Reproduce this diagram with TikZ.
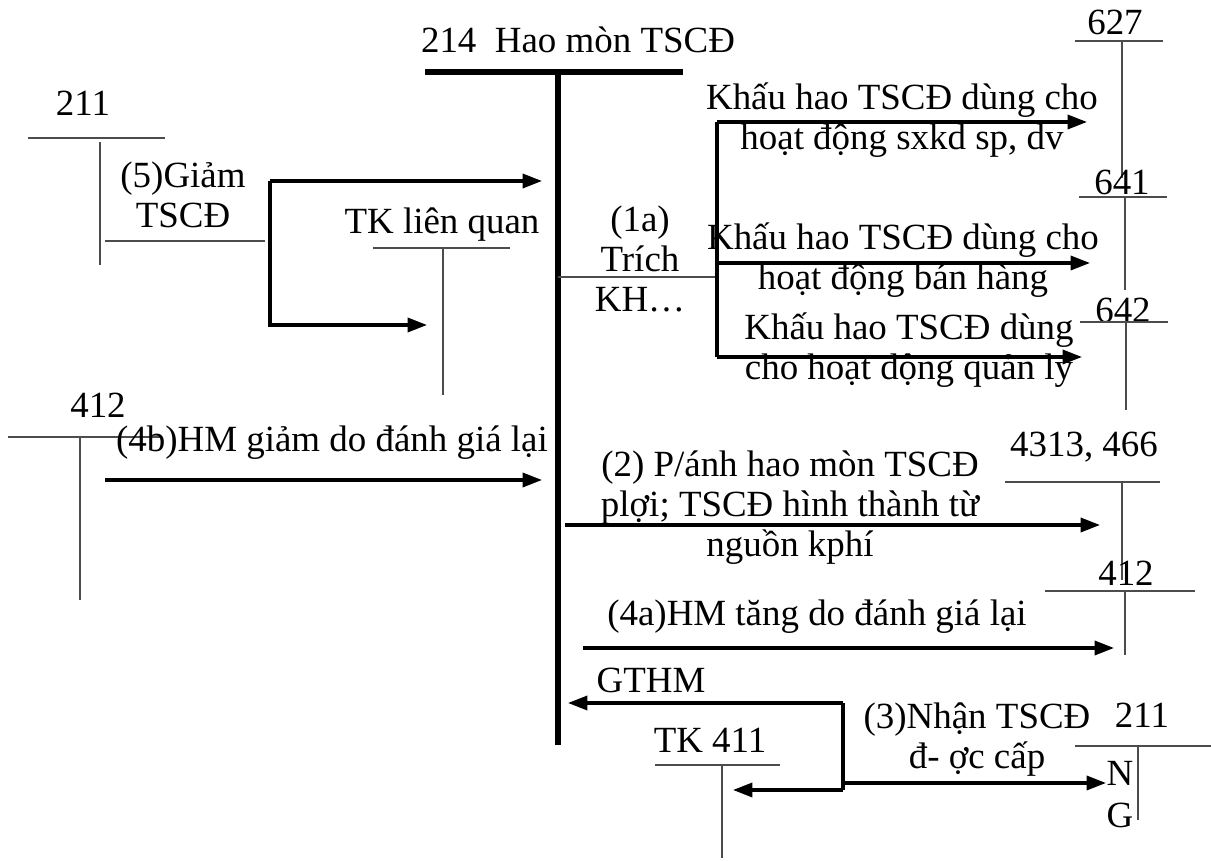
\documentclass[tikz,border=0pt]{standalone}
\usepackage{fontspec}
\setmainfont{Liberation Serif}
\usetikzlibrary{arrows.meta}

\begin{document}
\begin{tikzpicture}[x=0.01cm, y=-0.01cm,
    txt/.style={inner sep=0pt, align=center, font=\fontsize{10.5}{11.4}\selectfont},
    tacc/.style={black!70, line width=0.45pt},
    arr/.style={-{Triangle[length=5.5pt,width=4pt]}, line width=0.9pt},
    lnk/.style={line width=0.9pt},
    main/.style={line width=1.5pt}
]
\useasboundingbox (0,0) rectangle (1211,861);

% TK 214
\node[txt] (t214) at (578,40) {214\ \ Hao mòn TSCĐ};
\draw[main] (425,72) -- (683,72);
\draw[main] (558,72) -- (558,745);

% TK 211 trái
\node[txt] (n211a) at (83,103) {211};
\draw[tacc] (28,138) -- (165,138);
\draw[tacc] (100,142) -- (100,265);
\draw[tacc] (105,241) -- (265,241);
\node[txt] (l5) at (183,195) {(5)Giảm\\TSCĐ};
\coordinate (b5) at (270,181);
\coordinate (b5a) at (542,181);
\coordinate (b5b) at (427,325);
\draw[arr] (b5) -- (b5a);
\draw[arr] (b5) |- (b5b);

% TK liên quan
\node[txt] (tklq) at (442,225) {TK liên quan};
\draw[tacc] (373,248) -- (510,248);
\draw[tacc] (443,248) -- (443,395);

% (1a) trích KH
\node[txt] (l1a) at (640,259) {(1a)\\Trích\\KH…};
\coordinate (k0) at (558,277);
\coordinate (k1) at (717,122);
\coordinate (k2) at (717,263);
\coordinate (k3) at (717,357);
\draw[tacc] (k0) -- (717,277);
\draw[lnk] (k1) -- (k3);
\draw[arr] (k1) -- (1087,122);
\draw[arr] (k2) -- (1090,263);
\draw[arr] (k3) -- (1082,357);
\node[txt] (l627) at (902,120) {Khấu hao TSCĐ dùng cho\\hoạt động sxkd sp, dv};
\node[txt] (l641) at (903,260) {Khấu hao TSCĐ dùng cho\\hoạt động bán hàng};
\node[txt] (l642) at (909,350) {Khấu hao TSCĐ dùng\\cho hoạt động quản lý};

% TK 627, 641, 642
\node[txt] (n627) at (1115,22) {627};
\draw[tacc] (1075,41) -- (1163,41);
\draw[tacc] (1122,41) -- (1122,178);
\node[txt] (n641) at (1122,182) {641};
\draw[tacc] (1079,197) -- (1167,197);
\draw[tacc] (1125,197) -- (1125,290);
\node[txt] (n642) at (1123,310) {642};
\draw[tacc] (1080,322) -- (1168,322);
\draw[tacc] (1126,322) -- (1126,410);

% TK 412 trái
\node[txt] (n412a) at (98,405) {412};
\draw[tacc] (8,437) -- (160,437);
\draw[tacc] (80,437) -- (80,600);
\node[txt] (l4b) at (332,443) {(4b)HM giảm do đánh giá lại};
\coordinate (a4b) at (105,480);
\draw[arr] (a4b) -- (542,480);

% (2) 4313, 466
\node[txt] (l2) at (790,508) {(2) P/ánh hao mòn TSCĐ\\plợi; TSCĐ hình thành từ\\nguồn kphí};
\coordinate (a2) at (565,525);
\draw[arr] (a2) -- (1100,525);
\node[txt] (n4313) at (1084,447) {4313, 466};
\draw[tacc] (1005,482) -- (1160,482);
\draw[tacc] (1122,482) -- (1122,580);

% (4a) TK 412 phải
\node[txt] (n412b) at (1126,573) {412};
\draw[tacc] (1045,591) -- (1195,591);
\draw[tacc] (1125,591) -- (1125,655);
\node[txt] (l4a) at (817,617) {(4a)HM tăng do đánh giá lại};
\coordinate (a4a) at (583,648);
\draw[arr] (a4a) -- (1114,648);

% (3) nhận TSCĐ được cấp
\node[txt] (lgthm) at (651,680) {GTHM};
\coordinate (c3) at (843,703);
\coordinate (c3b) at (843,790);
\draw[arr] (c3) -- (568,703);
\draw[lnk] (c3) -- (c3b);
\draw[arr] (c3b) -- (733,790);
\draw[arr] (843,783) -- (1106,783);
\node[txt] (l3) at (977,740) {(3)Nhận TSCĐ\\đ- ợc cấp};
\node[txt] (n411) at (710,740) {TK 411};
\draw[tacc] (655,765) -- (780,765);
\draw[tacc] (722,765) -- (722,858);
\node[txt] (n211b) at (1142,715) {211};
\draw[tacc] (1075,746) -- (1211,746);
\draw[tacc] (1138,746) -- (1138,820);
\node[txt] (lN) at (1120,773) {N};
\node[txt] (lG) at (1120,815) {G};
\end{tikzpicture}
\end{document}
